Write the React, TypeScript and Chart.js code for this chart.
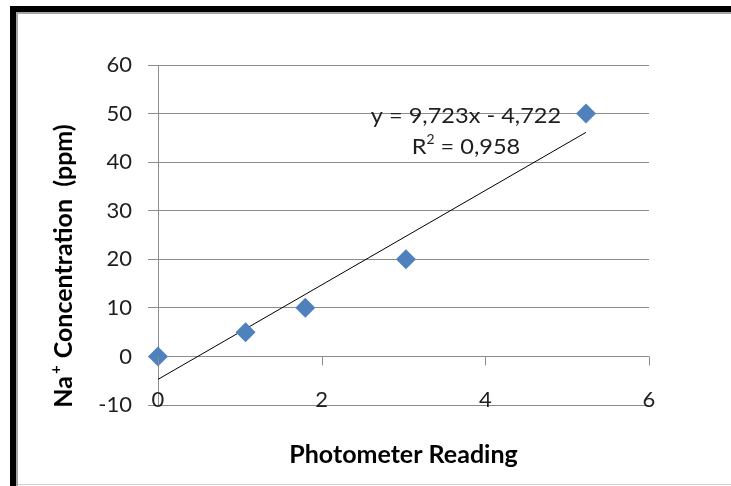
import React, { useEffect, useRef } from "react";
import { Chart, registerables } from "chart.js";

Chart.register(...registerables);

// ---- data ----
const photometerReading = [0, 1.07, 1.8, 3.03, 5.23];
const naConcentration = [0, 5, 10, 20, 50];
const trendSlope = 9.723;
const trendIntercept = -4.722;
const equationLabel = "y = 9,723x - 4,722";
const r2Label = "0,958";
const xTickValues = [0, 2, 4, 6];
const yTickValues = [-10, 0, 10, 20, 30, 40, 50, 60];
const xTitle = "Photometer Reading";
const yTitleMain = "Na";
const yTitleSup = "+";
const yTitleRest = " Concentration  (ppm)";

const FONT = "Lato, 'Open Sans', sans-serif";
const GRID = "#8c8c8c";
const TEXT = "#1e1e1e";

export default function App() {
  const ref = useRef<HTMLCanvasElement>(null);

  useEffect(() => {
    if (!ref.current) return;
    const xMinData = Math.min(...photometerReading);
    const xMaxData = Math.max(...photometerReading);
    const trend = [xMinData, xMaxData].map((x) => ({ x, y: trendSlope * x + trendIntercept }));

    const framePlugin = {
      id: "frame",
      beforeDraw(chart: any) {
        const { ctx, width, height } = chart;
        ctx.save();
        ctx.fillStyle = "#ffffff";
        ctx.fillRect(0, 0, width, height);
        ctx.fillStyle = "#000";
        ctx.fillRect(10, 6, width - 10, 6);
        ctx.fillRect(10, 6, 6, height - 6);
        ctx.fillStyle = "#a6a6a6";
        ctx.fillRect(16, 12, width - 16, 2);
        ctx.fillRect(16, 12, 2, height - 12);
        ctx.fillStyle = "#cfcfcf";
        ctx.fillRect(18, height - 2, width - 18, 1);
        ctx.restore();
      },
      afterDraw(chart: any) {
        const { ctx, scales } = chart;
        const xs = scales.x;
        const ys = scales.y;
        ctx.save();
        // x axis crossing at y = 0 with tick marks
        const y0 = Math.round(ys.getPixelForValue(0)) + 0.5;
        ctx.strokeStyle = GRID;
        ctx.lineWidth = 1;
        ctx.beginPath();
        xTickValues.forEach((v) => {
          const px = Math.round(xs.getPixelForValue(v)) + 0.5;
          ctx.moveTo(px, y0);
          ctx.lineTo(px, y0 + 9);
        });
        ctx.stroke();

        // x tick labels (low position, overlapping bottom gridline)
        ctx.fillStyle = TEXT;
        ctx.font = `22px ${FONT}`;
        ctx.textAlign = "center";
        ctx.textBaseline = "middle";
        const yLow = ys.getPixelForValue(yTickValues[0]) - 5;
        xTickValues.forEach((v) => {
          ctx.fillText(String(v), xs.getPixelForValue(v), yLow);
        });
        ctx.restore();

        // y axis title
        ctx.save();
        ctx.fillStyle = "#000";
        ctx.translate(64, 266);
        ctx.rotate(-Math.PI / 2);
        ctx.textBaseline = "middle";
        ctx.textAlign = "left";
        const big = `bold 25px ${FONT}`;
        const small = `bold 15px ${FONT}`;
        ctx.font = big;
        const w1 = ctx.measureText(yTitleMain).width;
        const w3 = ctx.measureText(yTitleRest).width;
        ctx.font = small;
        const w2 = ctx.measureText(yTitleSup).width + 3;
        const total = w1 + w2 + w3;
        let cx = -total / 2;
        ctx.font = big;
        ctx.fillText(yTitleMain, cx, 0);
        cx += w1 + 2;
        ctx.font = small;
        ctx.fillText(yTitleSup, cx, -8);
        cx += w2 - 2;
        ctx.font = big;
        ctx.fillText(yTitleRest, cx, 0);
        ctx.restore();

        // trendline equation
        ctx.save();
        ctx.fillStyle = TEXT;
        ctx.translate(466, 0);
        ctx.scale(1.07, 1);
        ctx.font = `22px ${FONT}`;
        ctx.textAlign = "center";
        ctx.textBaseline = "middle";
        ctx.fillText(equationLabel, 0, 116);
        const rText = "R";
        const eqText = " = " + r2Label;
        const wr = ctx.measureText(rText).width;
        const we = ctx.measureText(eqText).width;
        ctx.font = `13px ${FONT}`;
        const ws = ctx.measureText("2").width;
        const tot = wr + ws + we;
        let sx = -tot / 2;
        ctx.textAlign = "left";
        ctx.font = `22px ${FONT}`;
        ctx.fillText(rText, sx, 147);
        sx += wr;
        ctx.font = `13px ${FONT}`;
        ctx.fillText("2", sx, 140);
        sx += ws;
        ctx.font = `22px ${FONT}`;
        ctx.fillText(eqText, sx, 147);
        ctx.restore();
      },
    };

    const chart = new Chart(ref.current, {
      type: "scatter",
      data: {
        datasets: [
          {
            label: "Trend",
            type: "line",
            data: trend,
            borderColor: "#000000",
            borderWidth: 1,
            pointRadius: 0,
            fill: false,
            order: 2,
          },
          {
            label: "Na+",
            data: photometerReading.map((x, i) => ({ x, y: naConcentration[i] })),
            pointStyle: "rectRot",
            pointRadius: 10,
            backgroundColor: "#4f81bd",
            borderColor: "#4f81bd",
            borderWidth: 0,
            clip: false,
            order: 1,
          },
        ],
      },
      options: {
        responsive: false,
        animation: false,
        layout: { padding: { left: 0, top: 65, right: 82, bottom: 0 } },
        plugins: { legend: { display: false }, tooltip: { enabled: false } },
        scales: {
          x: {
            type: "linear",
            min: 0,
            max: 6,
            afterBuildTicks: (s: any) => {
              s.ticks = xTickValues.map((v) => ({ value: v }));
            },
            afterFit: (s: any) => {
              s.height = 81;
            },
            grid: { display: false, drawTicks: false },
            border: { display: false },
            ticks: { display: false },
            title: {
              display: true,
              text: xTitle,
              color: "#000",
              font: { family: FONT, size: 25, weight: "bold" },
              padding: { top: 0, bottom: 16 },
            },
          },
          y: {
            type: "linear",
            min: -10,
            max: 60,
            afterBuildTicks: (s: any) => {
              s.ticks = yTickValues.map((v) => ({ value: v }));
            },
            afterFit: (s: any) => {
              s.width = 158;
            },
            grid: { color: GRID, tickLength: 10, lineWidth: 1 },
            border: { display: true, color: GRID, width: 1 },
            ticks: {
              padding: 16,
              color: TEXT,
              font: { family: FONT, size: 22 },
            },
          },
        },
      },
      plugins: [framePlugin],
    } as any);
    return () => chart.destroy();
  }, []);

  return (
    <div style={{ position: "fixed", left: 0, top: 0, width: 731, height: 486 }}>
      <canvas ref={ref} width={731} height={486} style={{ width: 731, height: 486 }} />
    </div>
  );
}
